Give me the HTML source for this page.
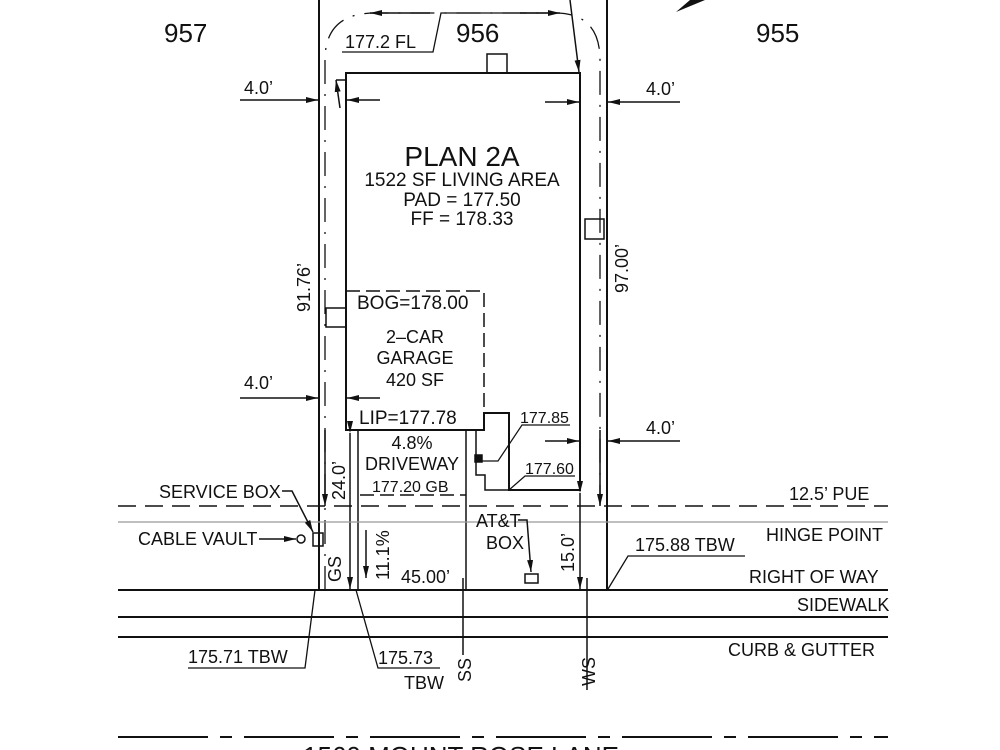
<!DOCTYPE html>
<html><head><meta charset="utf-8"><style>
html,body{margin:0;padding:0;background:#fff;width:1000px;height:750px;overflow:hidden}
svg text{font-family:"Liberation Sans",sans-serif;fill:#111}
</style></head><body>
<svg width="1000" height="750" viewBox="0 0 1000 750" xmlns="http://www.w3.org/2000/svg">
<defs>
<marker id="a" markerWidth="12" markerHeight="6" refX="12" refY="3" orient="auto" markerUnits="userSpaceOnUse"><path d="M0,0 L12,3 L0,6 z" fill="#111"/></marker>
</defs>
<g stroke="#111" fill="none" stroke-width="1.5">
<line x1="319" y1="0" x2="319" y2="590" stroke-width="2"/>
<line x1="607" y1="0" x2="607" y2="590" stroke-width="2"/>
<path d="M346,73 H580 V490 H509 V413 H484 V430 H346 Z" stroke-width="2"/>
<rect x="487" y="54" width="20" height="19"/>
<rect x="326" y="308" width="20" height="19"/>
<rect x="585" y="219" width="19" height="20"/>
<path d="M346,291 H484 V410" stroke-dasharray="14,6"/>
<path d="M325,590 V60 Q325,13 375,13 H555 Q600,13 600,60 V505" stroke-dasharray="24,10,2,10" stroke-width="1.3"/>
<line x1="430" y1="13" x2="370" y2="13" marker-end="url(#a)"/>
<line x1="520" y1="13" x2="560" y2="13" marker-end="url(#a)"/>
<line x1="570" y1="0" x2="579" y2="72" marker-end="url(#a)"/>
<line x1="340" y1="108" x2="336" y2="80" marker-end="url(#a)"/>
<line x1="336" y1="80" x2="346" y2="80"/>
<line x1="325" y1="430" x2="325" y2="506" marker-end="url(#a)"/>
<line x1="600" y1="430" x2="600" y2="506" marker-end="url(#a)"/>
<path d="M342,52 H433 L441,13 H555" stroke-width="1.3"/>
<line x1="240" y1="100" x2="318" y2="100" marker-end="url(#a)"/>
<line x1="380" y1="100" x2="347" y2="100" marker-end="url(#a)"/>
<line x1="545" y1="102" x2="579" y2="102" marker-end="url(#a)"/>
<line x1="680" y1="102" x2="608" y2="102" marker-end="url(#a)"/>
<line x1="240" y1="398" x2="318" y2="398" marker-end="url(#a)"/>
<line x1="380" y1="398" x2="347" y2="398" marker-end="url(#a)"/>
<line x1="545" y1="441" x2="579" y2="441" marker-end="url(#a)"/>
<line x1="680" y1="441" x2="608" y2="441" marker-end="url(#a)"/>
<line x1="350" y1="433" x2="350" y2="589" marker-start="url(#a)" marker-end="url(#a)"/>
<line x1="358" y1="430" x2="358" y2="590"/>
<line x1="466" y1="430" x2="466" y2="590"/>
<path d="M476,430 V475 H485 V490 H509" />
<rect x="475" y="455" width="7" height="7" fill="#111"/>
<path d="M482,461 H498 L522,425 H570" stroke-width="1.2"/>
<path d="M509,490 L525,476 H575" stroke-width="1.2"/>
<line x1="360" y1="495" x2="466" y2="495" stroke-dasharray="14,6"/>
<line x1="366" y1="530" x2="366" y2="578" marker-end="url(#a)"/>
<line x1="118" y1="506" x2="888" y2="506" stroke-dasharray="18,9"/>
<line x1="118" y1="522" x2="888" y2="522" stroke="#999" stroke-width="1.2"/>
<line x1="118" y1="590" x2="888" y2="590" stroke-width="2"/>
<line x1="118" y1="617" x2="888" y2="617" stroke-width="2"/>
<line x1="118" y1="637" x2="888" y2="637" stroke-width="2"/>
<line x1="118" y1="737" x2="888" y2="737" stroke-dasharray="90,12,12,12" stroke-width="2"/>
<line x1="580" y1="493" x2="580" y2="589" marker-start="url(#a)" marker-end="url(#a)"/>
<line x1="587" y1="578" x2="587" y2="690"/>
<line x1="463" y1="578" x2="463" y2="655"/>
<rect x="313" y="533" width="10" height="13"/>
<circle cx="301" cy="539" r="4"/>
<line x1="259" y1="539" x2="296" y2="539" marker-end="url(#a)"/>
<path d="M282,491 H292 L313,532" marker-end="url(#a)"/>
<path d="M518,520 H527 L531,572" marker-end="url(#a)"/>
<rect x="525" y="574" width="13" height="9"/>
<path d="M608,589 L628,556 H745" stroke-width="1.3"/>
<path d="M315,590 L305,668 H188" stroke-width="1.3"/>
<path d="M356,590 L378,668 H440" stroke-width="1.3"/>
</g>
<polygon points="676,12 705,0 690,0" fill="#111"/>
<g font-size="26">
<text x="164" y="42">957</text>
<text x="456" y="42">956</text>
<text x="756" y="42">955</text>
</g>
<g font-size="18">
<text x="345" y="48">177.2 FL</text>
<text x="244" y="94">4.0’</text>
<text x="646" y="95">4.0’</text>
<text x="244" y="389">4.0’</text>
<text x="646" y="434">4.0’</text>
<text x="462" y="166" text-anchor="middle" font-size="28">PLAN 2A</text>
<text x="462" y="186" text-anchor="middle" font-size="19">1522 SF LIVING AREA</text>
<text x="462" y="206" text-anchor="middle" font-size="19">PAD = 177.50</text>
<text x="462" y="225" text-anchor="middle" font-size="19">FF = 178.33</text>
<text x="357" y="309" font-size="19">BOG=178.00</text>
<text x="415" y="343" text-anchor="middle">2–CAR</text>
<text x="415" y="364" text-anchor="middle">GARAGE</text>
<text x="415" y="386" text-anchor="middle">420 SF</text>
<text x="359" y="424" font-size="19">LIP=177.78</text>
<text x="412" y="449" text-anchor="middle">4.8%</text>
<text x="412" y="470" text-anchor="middle">DRIVEWAY</text>
<text x="372" y="492" font-size="16">177.20 GB</text>
<text x="520" y="423" font-size="16">177.85</text>
<text x="525" y="474" font-size="16">177.60</text>
<text x="159" y="498">SERVICE BOX</text>
<text x="138" y="545">CABLE VAULT</text>
<text x="476" y="527">AT&amp;T</text>
<text x="486" y="549">BOX</text>
<text x="401" y="583">45.00’</text>
<text x="789" y="500">12.5’ PUE</text>
<text x="766" y="541">HINGE POINT</text>
<text x="749" y="583">RIGHT OF WAY</text>
<text x="797" y="611">SIDEWALK</text>
<text x="728" y="656">CURB &amp; GUTTER</text>
<text x="635" y="551">175.88 TBW</text>
<text x="188" y="663">175.71 TBW</text>
<text x="378" y="664">175.73</text>
<text x="404" y="689">TBW</text>
<text x="303" y="765" font-size="26">1560 MOUNT ROSE LANE</text>
<text transform="translate(310,312) rotate(-90)">91.76’</text>
<text transform="translate(628,293) rotate(-90)">97.00’</text>
<text transform="translate(345,500) rotate(-90)">24.0’</text>
<text transform="translate(389,580) rotate(-90)">11.1%</text>
<text transform="translate(574,572) rotate(-90)">15.0’</text>
<text transform="translate(341,582) rotate(-90)">GS</text>
<text transform="translate(471,682) rotate(-90)">SS</text>
<text transform="translate(595,686) rotate(-90)">WS</text>
</g>
</svg>
</body></html>
